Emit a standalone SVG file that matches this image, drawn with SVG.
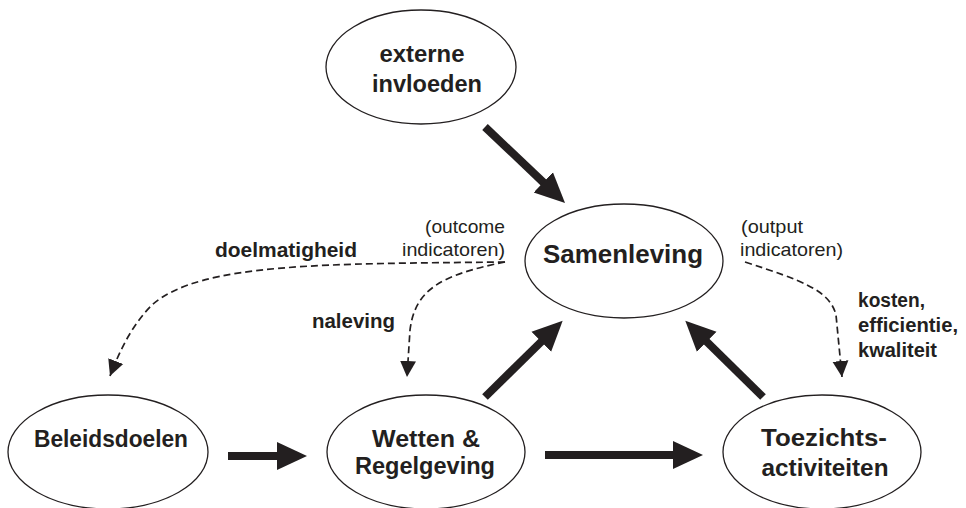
<svg xmlns="http://www.w3.org/2000/svg" width="966" height="508" viewBox="0 0 966 508">
<style>
.node{fill:#fff;stroke:#231f20;stroke-width:1.3}
.t{font-family:"Liberation Sans",Arial,sans-serif;fill:#231f20;text-anchor:middle;font-weight:bold}
.lb{font-family:"Liberation Sans",Arial,sans-serif;fill:#231f20;font-weight:bold;font-size:20px}
.lr{font-family:"Liberation Sans",Arial,sans-serif;fill:#231f20;font-size:18.5px}
.thick{stroke:#231f20;stroke-width:8;fill:none;marker-end:url(#big)}
.dash{stroke:#231f20;stroke-width:1.7;fill:none;stroke-dasharray:7 4;marker-end:url(#small)}
</style>
<defs>
<marker id="big" markerUnits="userSpaceOnUse" viewBox="0 -15 31 30" refX="1" refY="0" markerWidth="31" markerHeight="30" orient="auto">
<path d="M0,-14 L30,0 L0,14 z" fill="#231f20"/>
</marker>
<marker id="small" markerUnits="userSpaceOnUse" viewBox="0 -9 17 18" refX="16" refY="0" markerWidth="17" markerHeight="18" orient="auto">
<path d="M0,-8 L16,0 L0,8 z" fill="#231f20"/>
</marker>
</defs>
<g id="connectors">
<line class="thick" x1="485" y1="127" x2="544" y2="183"/>
<line class="thick" x1="485" y1="397" x2="542" y2="341"/>
<line class="thick" x1="763" y1="397" x2="706" y2="341"/>
<line class="thick" x1="228" y1="456" x2="278" y2="456"/>
<line class="thick" x1="545" y1="455" x2="674" y2="455"/>
<path class="dash" d="M505,262 C330,264 200,262 152,305 C132,325 120,350 110,376"/>
<path class="dash" d="M505,262 C440,275 415,290 410,330 L407,377"/>
<path class="dash" d="M745,262 C800,280 830,290 836,315 L842,377"/>
</g>
<g id="externe">
<ellipse class="node" cx="421" cy="67" rx="95" ry="57"/>
<text class="t" x="422" y="62" font-size="24" textLength="85" lengthAdjust="spacingAndGlyphs">externe</text>
<text class="t" x="427" y="92" font-size="24" textLength="110" lengthAdjust="spacingAndGlyphs">invloeden</text>
</g>
<g id="samenleving">
<ellipse class="node" cx="624" cy="261" rx="99" ry="57"/>
<text class="t" x="623" y="263" font-size="25.5" textLength="160" lengthAdjust="spacingAndGlyphs">Samenleving</text>
</g>
<g id="beleidsdoelen">
<ellipse class="node" cx="108" cy="452" rx="100" ry="57"/>
<text class="t" x="111" y="447" font-size="24" textLength="154" lengthAdjust="spacingAndGlyphs">Beleidsdoelen</text>
</g>
<g id="wetten">
<ellipse class="node" cx="426" cy="452" rx="99" ry="57"/>
<text class="t" x="426" y="447" font-size="24" textLength="108" lengthAdjust="spacingAndGlyphs">Wetten &amp;</text>
<text class="t" x="425" y="474" font-size="24" textLength="140" lengthAdjust="spacingAndGlyphs">Regelgeving</text>
</g>
<g id="toezicht">
<ellipse class="node" cx="822" cy="452" rx="99" ry="57"/>
<text class="t" x="824" y="446" font-size="24" textLength="126" lengthAdjust="spacingAndGlyphs">Toezichts-</text>
<text class="t" x="825" y="476" font-size="24" textLength="127" lengthAdjust="spacingAndGlyphs">activiteiten</text>
</g>
<g id="labels">
<text class="lr" x="505" y="233" text-anchor="end" textLength="80" lengthAdjust="spacingAndGlyphs">(outcome</text>
<text class="lr" x="505" y="256" text-anchor="end" textLength="103" lengthAdjust="spacingAndGlyphs">indicatoren)</text>
<text class="lb" x="215" y="257" textLength="142" lengthAdjust="spacingAndGlyphs">doelmatigheid</text>
<text class="lb" x="312" y="328" textLength="83" lengthAdjust="spacingAndGlyphs">naleving</text>
<text class="lr" x="741" y="233" textLength="62" lengthAdjust="spacingAndGlyphs">(output</text>
<text class="lr" x="740" y="256" textLength="103" lengthAdjust="spacingAndGlyphs">indicatoren)</text>
<text class="lb" x="858" y="307" textLength="67" lengthAdjust="spacingAndGlyphs">kosten,</text>
<text class="lb" x="858" y="332" textLength="100" lengthAdjust="spacingAndGlyphs">efficientie,</text>
<text class="lb" x="858" y="357" textLength="79" lengthAdjust="spacingAndGlyphs">kwaliteit</text>
</g>
</svg>
